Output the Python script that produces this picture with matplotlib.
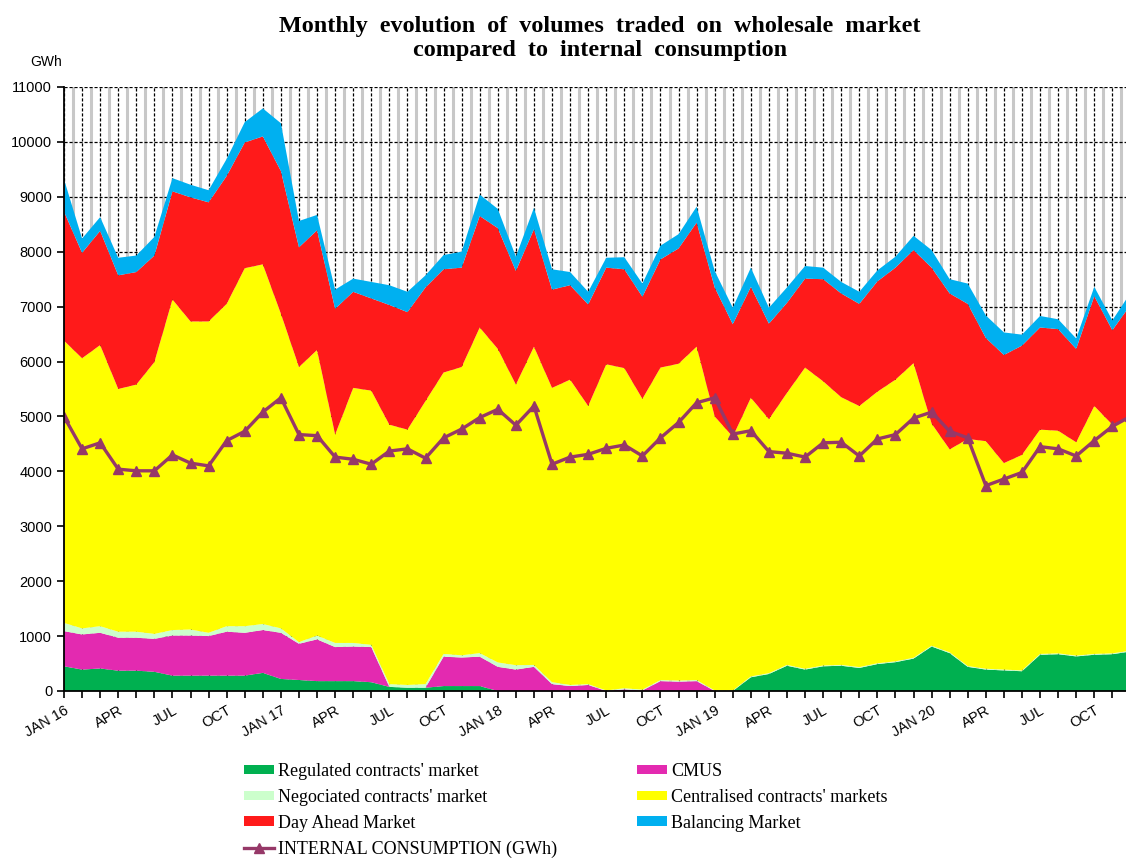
import numpy as np
import matplotlib
matplotlib.use("Agg")
import matplotlib.pyplot as plt

# -------------------------------
# Data (GWh), JAN 16 .. DEC 20
# -------------------------------
regulated = [450, 390, 410, 370, 370, 350, 280, 280, 280, 280, 280, 330,
             220, 200, 180, 180, 180, 160, 75, 60, 60, 90, 90, 90,
             0, 0, 0, 0, 0, 0, 0, 0, 0, 0, 0, 0,
             0, 0, 250, 310, 460, 390, 450, 460, 420, 490, 525, 590,
             810, 690, 440, 390, 375, 360, 660, 670, 630, 660, 670, 720]

cmus = [640, 640, 650, 600, 600, 600, 730, 730, 720, 800, 780, 780,
        840, 660, 760, 620, 630, 640, 0, 0, 0, 535, 520, 535,
        440, 390, 440, 125, 90, 110, 0, 30, 10, 180, 170, 180,
        0, 0, 0, 0, 0, 0, 0, 0, 0, 0, 0, 0,
        0, 0, 0, 0, 0, 0, 0, 0, 0, 0, 0, 0]

negociated = [150, 110, 120, 110, 110, 90, 100, 110, 60, 100, 120, 110,
              80, 30, 70, 75, 65, 40, 50, 50, 65, 50, 40, 65,
              80, 80, 35, 35, 20, 15, 10, 20, 15, 20, 20, 20,
              10, 10, 15, 15, 15, 15, 15, 15, 15, 15, 15, 15,
              15, 15, 15, 15, 15, 15, 15, 15, 15, 15, 15, 15]

centralised = [5140, 4920, 5120, 4420, 4500, 4950, 6020, 5610, 5670, 5870, 6520, 6550,
               5730, 5010, 5200, 3795, 4645, 4630, 4725, 4650, 5155, 5125, 5250, 5930,
               5710, 5110, 5795, 5360, 5560, 5065, 5940, 5830, 5295, 5690, 5770, 6070,
               4990, 4620, 5075, 4625, 4955, 5485, 5175, 4875, 4755, 4945, 5130, 5365,
               4045, 3695, 4135, 4145, 3760, 3925, 4085, 4055, 3885, 4515, 4165, 4265]

day_ahead = [2350, 1920, 2080, 2070, 2050, 1940, 1970, 2260, 2170, 2330, 2290, 2330,
             2600, 2180, 2180, 2290, 1750, 1680, 2180, 2140, 2070, 1880, 1810, 2030,
             2200, 2070, 2140, 1790, 1720, 1850, 1760, 1800, 1860, 1970, 2100, 2260,
             2350, 2050, 2020, 1740, 1640, 1620, 1860, 1890, 1860, 2010, 2040, 2060,
             2840, 2840, 2460, 1880, 1970, 1990, 1860, 1850, 1700, 2000, 1720, 2030]

balancing = [590, 260, 250, 320, 300, 340, 240, 230, 220, 310, 370, 510,
             870, 480, 280, 350, 240, 300, 360, 370, 220, 260, 290, 390,
             350, 260, 390, 370, 240, 230, 180, 220, 240, 250, 260, 290,
             300, 300, 350, 290, 280, 230, 210, 210, 220, 200, 200, 260,
             320, 260, 370, 410, 410, 200, 210, 180, 190, 170, 180, 220]

consumption = [4996, 4410, 4520, 4040, 4010, 4010, 4300, 4150, 4100, 4560, 4730, 5080,
               5340, 4670, 4650, 4260, 4220, 4130, 4370, 4410, 4240, 4610, 4770, 4980,
               5130, 4840, 5190, 4130, 4260, 4310, 4420, 4480, 4280, 4610, 4890, 5250,
               5340, 4680, 4740, 4360, 4330, 4260, 4520, 4530, 4280, 4590, 4670, 4970,
               5080, 4730, 4610, 3740, 3860, 3980, 4450, 4410, 4280, 4560, 4820, 5000]

years = ["16", "17", "18", "19", "20"]
quarter_names = ["JAN", "APR", "JUL", "OCT"]

series_labels = ["Regulated contracts' market", "CMUS", "Negociated contracts' market",
                 "Centralised contracts' markets", "Day Ahead Market", "Balancing Market"]
series_colors = ["#00B050", "#E32AB0", "#CCFFCC", "#FFFF00", "#FF1A1A", "#00B0F0"]
LINE_COLOR = "#963868"

# tick labels: every third month
tick_labels = []
for y in years:
    for q in quarter_names:
        tick_labels += [q + " " + y if q == "JAN" else q, "", ""]

x = np.arange(len(consumption))

# -------------------------------
# Figure
# -------------------------------
fig = plt.figure(figsize=(11.26, 8.59), dpi=100)
ax = fig.add_axes([64 / 1126, 168 / 859, 1062 / 1126, 604 / 859])

ax.stackplot(x, regulated, cmus, negociated, centralised, day_ahead, balancing,
             colors=series_colors, labels=series_labels, linewidth=0)
ax.plot(x, consumption, color=LINE_COLOR, lw=2.4, marker="^", markersize=7,
        label="INTERNAL CONSUMPTION (GWh)")

ax.set_yticks(np.arange(0, 11001, 1000))
ax.set_xticks(x)
ax.set_xticks(x + 0.5, minor=True)
ax.set_xticklabels(tick_labels, rotation=30, ha="right", rotation_mode="anchor",
                   fontsize=10.5, family="Liberation Sans")
for lab in ax.get_yticklabels():
    lab.set_family("Liberation Sans")
    lab.set_fontsize(10.5)
# the source picture is cut just before the last month
ax.set_xlim(0, (1126 - 64.3) / 18.07)
ax.set_ylim(0, 11000)

ax.set_axisbelow(True)
ax.grid(which="minor", axis="x", color="#c8c8c8", lw=2.2, ls="-")
ax.grid(which="major", axis="both", color="black", lw=0.9, ls=(0, (2.5, 1.5)))
ax.tick_params(which="major", direction="out", length=5, width=1.2, color="black")
ax.tick_params(which="minor", length=0)
ax.tick_params(axis="x", pad=4)

ax.spines["right"].set_visible(False)
ax.spines["top"].set_visible(False)
ax.spines["left"].set_linewidth(1.3)
ax.spines["bottom"].set_linewidth(1.3)

# -------------------------------
# Texts
# -------------------------------
fig.text(600 / 1126, 1 - 32 / 859,
         "Monthly  evolution  of  volumes  traded  on  wholesale  market",
         ha="center", va="baseline", fontsize=17.4, fontweight="bold",
         family="Liberation Serif")
fig.text(600 / 1126, 1 - 56 / 859,
         "compared  to  internal  consumption",
         ha="center", va="baseline", fontsize=17.4, fontweight="bold",
         family="Liberation Serif")
fig.text(30 / 1126, 1 - 62 / 859, "GWh", ha="left", va="center", fontsize=10,
         family="Liberation Sans")

handles, labels = ax.get_legend_handles_labels()
# column-wise fill: left column then right column
order_names = ["Regulated contracts' market", "Negociated contracts' market",
               "Day Ahead Market", "INTERNAL CONSUMPTION (GWh)",
               "CMUS", "Centralised contracts' markets", "Balancing Market"]
h_map = dict(zip(labels, handles))
leg = fig.legend([h_map[n] for n in order_names], order_names, ncol=2,
                 loc="upper left", bbox_to_anchor=(244 / 1126, 1 - 763 / 859),
                 frameon=False, borderpad=0, borderaxespad=0,
                 handlelength=1.66, handleheight=0.45, handletextpad=0.22,
                 labelspacing=0.49, columnspacing=4.43,
                 prop={"family": "Liberation Serif", "size": 13})

fig.savefig("out.png", dpi=100)
